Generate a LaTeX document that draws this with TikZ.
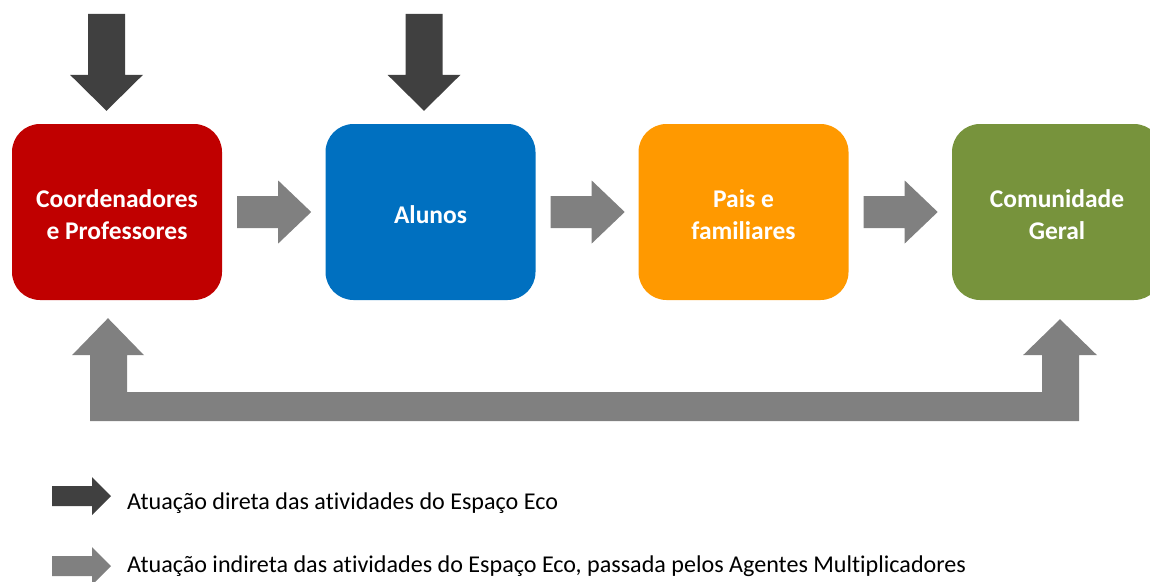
\documentclass[tikz,border=0pt]{standalone}
\usepackage{fontspec}
\setmainfont{Carlito}[Ligatures=NoCommon]
\usetikzlibrary{calc}
\definecolor{cred}{HTML}{C00000}
\definecolor{cblue}{HTML}{0070C0}
\definecolor{corange}{HTML}{FF9900}
\definecolor{cgreen}{HTML}{77933C}
\definecolor{darkarr}{HTML}{404040}
\definecolor{grayarr}{HTML}{808080}
\begin{document}
\begin{tikzpicture}[x=1pt,y=-1pt,
  box/.style={rounded corners=28pt, minimum width=210pt, minimum height=176pt, inner sep=0pt},
  boxtext/.style={text=white, font=\fontsize{25.5}{32}\selectfont\bfseries, align=center,
    inner sep=0pt, yshift=-3pt},
  darrow/.style={fill=darkarr},
  garrow/.style={fill=grayarr},
  legendtext/.style={anchor=base west, font=\fontsize{24.1}{28}\selectfont, inner sep=0pt, text=black}]
\useasboundingbox (0,0) rectangle (1150,581);
\clip (0,0) rectangle (1150,581);

% boxes
\node[box, fill=cred, label={[boxtext]center:{Coordenadores\\e Professores}}] (c1) at (117,212) {};
\node[box, fill=cblue, label={[boxtext]center:{Alunos}}] (c2) at (430.5,212) {};
\node[box, fill=corange, label={[boxtext]center:{Pais e\\familiares}}] (c3) at (743.5,212) {};
\node[box, fill=cgreen, label={[boxtext]center:{Comunidade\\Geral}}] (c4) at (1057,212) {};

% horizontal gray arrows between boxes
\foreach \a in {c1,c2,c3}{
  \coordinate (hs) at ($(\a.east)+(15,0)$);
  \fill[garrow] (hs) ++(0,-16) -- ++(41,0) -- ++(0,-15.5) -- ++(33,31.5)
    -- ++(-33,31.5) -- ++(0,-15.5) -- ++(-41,0) -- cycle;
}

% top dark arrows
\coordinate (t1) at ($(c1.north)+(-10.5,-13)$);
\coordinate (t2) at ($(c2.north)+(-6.5,-13)$);
\foreach \t in {t1,t2}{
  \fill[darrow] (\t) -- ++(-36.5,-36) -- ++(18,0) -- ++(0,-61) -- ++(37,0)
    -- ++(0,61) -- ++(18,0) -- cycle;
}

% bottom U-shaped return arrow
\coordinate (ul) at ($(c1.south)+(-9,18)$);
\coordinate (ur) at ($(c4.south)+(3,19)$);
\fill[garrow] (ul) -- ++(36,37) -- ++(-17,0) |- ($(ur)+(-18,73)$)
  -- ($(ur)+(-18,36)$) -- ++(-19,0) -- (ur) -- ++(37,36) -- ++(-18,0)
  |- ($(ul)+(-18,103)$) -- ($(ul)+(-18,37)$) -- ++(-18,0) -- cycle;

% legend
\node[legendtext] (l1) at (127,509) {Atuação direta das atividades do Espaço Eco};
\node[legendtext] (l2) at (127,572) {Atuação indireta das atividades do Espaço Eco, passada pelos Agentes Multiplicadores};
\coordinate (lt1) at (111,496);
\coordinate (lt2) at (111,566);
\fill[darrow] (lt1) -- ++(-19,-19) -- ++(0,9) -- ++(-40,0) -- ++(0,20) -- ++(40,0) -- ++(0,9) -- cycle;
\fill[garrow] (lt2) -- ++(-19,-19) -- ++(0,9) -- ++(-40,0) -- ++(0,20) -- ++(40,0) -- ++(0,9) -- cycle;
\end{tikzpicture}
\end{document}
